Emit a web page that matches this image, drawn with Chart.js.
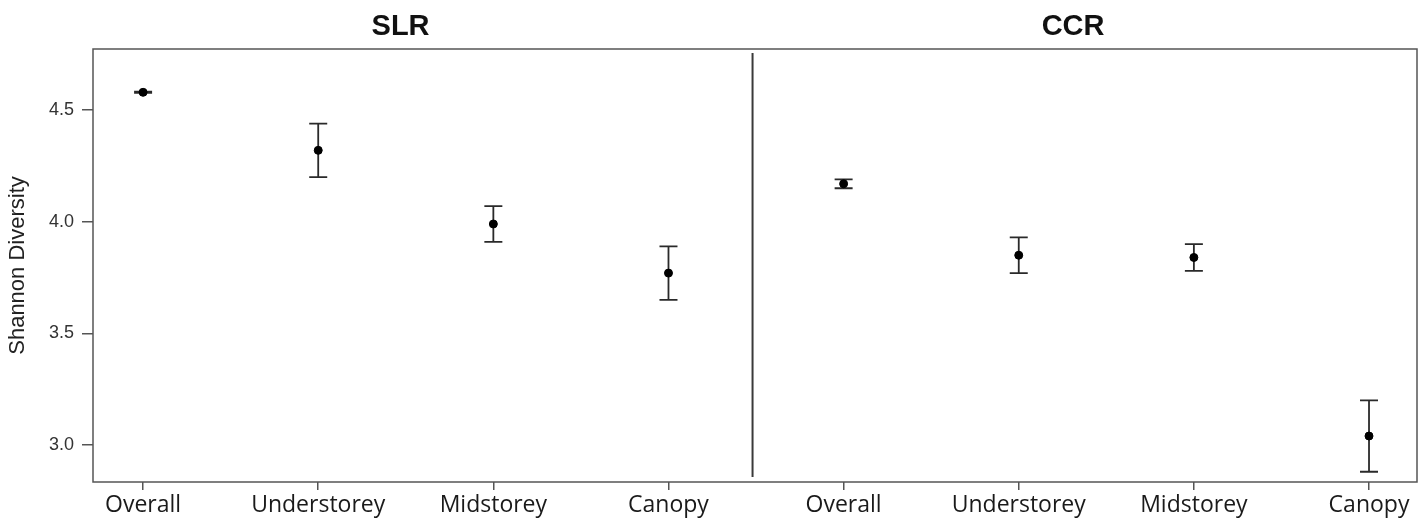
<!DOCTYPE html>
<html>
<head>
<meta charset="utf-8">
<script src="https://cdn.jsdelivr.net/npm/chart.js@4"></script>
<style>
body{margin:0;background:#fff;}
#wrap{width:1422px;height:523px;}
</style>
</head>
<body>
<div id="wrap"><canvas id="myChart"></canvas></div>
<script>
// categories for each panel
var categories = ['Overall','Understorey','Midstorey','Canopy'];
var panels = ['SLR','CCR'];
// mean and error bounds
var slrMean = [4.58, 4.32, 3.99, 3.77];
var slrLow  = [4.577, 4.20, 3.91, 3.65];
var slrHigh = [4.583, 4.44, 4.07, 3.89];
var ccrMean = [4.17, 3.85, 3.84, 3.04];
var ccrLow  = [4.15, 3.77, 3.78, 2.88];
var ccrHigh = [4.19, 3.93, 3.90, 3.20];
var yTicks = [3.0, 3.5, 4.0, 4.5];

window.onload = init;
function init(){
var labels = categories.concat(categories);
var means = slrMean.concat(ccrMean);
var lows = slrLow.concat(ccrLow);
var highs = slrHigh.concat(ccrHigh);
var pts = means.map(function(v,i){ return {x:i+1, y:v}; });

var axisColor = '#555';

// error bars, box, divider and panel titles
var extras = {
  id:'extras',
  beforeDatasetsDraw: function(chart){
    var c = chart.ctx, xs = chart.scales.x, ys = chart.scales.y;
    c.save();
    c.strokeStyle = '#2a2a2a';
    c.lineWidth = 1.8;
    for (var i=0;i<means.length;i++){
      var px = xs.getPixelForValue(i+1);
      var yl = ys.getPixelForValue(lows[i]);
      var yh = ys.getPixelForValue(highs[i]);
      c.beginPath();
      c.moveTo(px,yl); c.lineTo(px,yh);
      c.moveTo(px-9,yl); c.lineTo(px+9,yl);
      c.moveTo(px-9,yh); c.lineTo(px+9,yh);
      c.stroke();
    }
    c.restore();
  },
  afterDatasetsDraw: function(chart){
    var c = chart.ctx, xs = chart.scales.x, a = chart.chartArea;
    c.save();
    // box
    c.strokeStyle = axisColor;
    c.lineWidth = 1.5;
    c.strokeRect(a.left, a.top, a.right-a.left, a.bottom-a.top);
    // divider between panels
    var dx = xs.getPixelForValue(4.48);
    c.strokeStyle = '#3a3a3a';
    c.lineWidth = 2;
    c.beginPath();
    c.moveTo(dx, a.top+4); c.lineTo(dx, a.bottom-5);
    c.stroke();
    // panel titles
    c.fillStyle = '#111';
    c.font = 'bold 29px "Liberation Sans", Arial, sans-serif';
    c.textAlign = 'center';
    c.textBaseline = 'middle';
    c.fillText(panels[0], xs.getPixelForValue(2.47), 27);
    c.fillText(panels[1], xs.getPixelForValue(6.31), 27);
    c.restore();
  }
};

var ctx = document.getElementById('myChart');
var myChart = new Chart(ctx, {
  type: 'scatter',
  data: {
    datasets: [
      {
        data: pts,
        backgroundColor: '#000',
        borderColor: '#000',
        pointRadius: 4,
        pointHoverRadius: 4
      }
    ]
  },
  options: {
    responsive: true,
    maintainAspectRatio: false,
    animation: false,
    layout: { padding: { top: 49, right: 5, left: 0, bottom: 0 } },
    plugins: { legend: { display: false }, tooltip: { enabled: false } },
    scales: {
      x: {
        type: 'linear',
        min: 0.714,
        max: 8.274,
        afterFit: function(s){ s.height = 41; },
        afterBuildTicks: function(s){ s.ticks = labels.map(function(l,i){ return {value:i+1}; }); },
        grid: { drawOnChartArea: false, tickLength: 8, color: axisColor, tickColor: axisColor, lineWidth: 1.5 },
        border: { display: false },
        ticks: {
          autoSkip: false,
          maxRotation: 0,
          padding: 2,
          color: '#1a1a1a',
          font: { family: '"Open Sans", sans-serif', size: 23 },
          callback: function(v){ return labels[Math.round(v)-1]; }
        }
      },
      y: {
        min: 2.834,
        max: 4.774,
        afterFit: function(s){ s.width = 93; },
        afterBuildTicks: function(s){ s.ticks = yTicks.map(function(v){ return {value:v}; }); },
        grid: { drawOnChartArea: false, tickLength: 11, color: axisColor, tickColor: axisColor, lineWidth: 1.5 },
        border: { display: false },
        title: {
          display: true,
          text: 'Shannon Diversity',
          color: '#222',
          font: { family: '"Liberation Sans", Arial, sans-serif', size: 22 },
          padding: { top: 5, bottom: 0 }
        },
        ticks: {
          padding: 8,
          color: '#333',
          font: { family: '"Liberation Sans", Arial, sans-serif', size: 18 },
          callback: function(v){ return v.toFixed(1); }
        }
      }
    }
  },
  plugins: [extras]
});
}
</script>
</body>
</html>
